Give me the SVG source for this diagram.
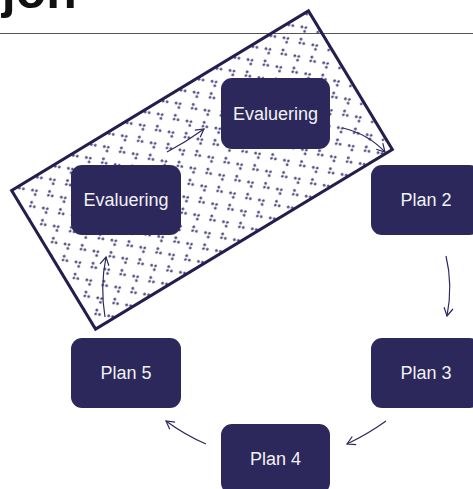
<svg xmlns="http://www.w3.org/2000/svg" width="473" height="489" viewBox="0 0 473 489">
  <style>
    .node rect { fill: #2c285b; }
    .node text { fill: #f2f2f4; font-family: "Liberation Sans", Arial, sans-serif; font-size: 18px; text-anchor: middle; }
    .link { fill: none; stroke: #2c285b; stroke-width: 1.2; marker-end: url(#arrow); }
    .title { font-family: "Liberation Sans", Arial, sans-serif; font-weight: bold; font-size: 50px; fill: #111; }
  </style>
  <defs>
    <marker id="arrow" markerUnits="userSpaceOnUse" markerWidth="14" markerHeight="14" viewBox="-10 -7 14 14" refX="0" refY="0" orient="auto">
      <path d="M-8,-4.5 L0,0 L-8,4.5" fill="none" stroke="#2c285b" stroke-width="1.2"/>
    </marker>
    <!-- dotted chevron fill -->
    <pattern id="chevrons" patternUnits="userSpaceOnUse" width="21" height="21">
      <g fill="#45427a">
        <circle cx="12.6" cy="13.4" r="1.35"/>
        <circle cx="15.6" cy="16" r="1.35"/>
        <circle cx="12.6" cy="18.6" r="1.35"/>
        <circle cx="5.5" cy="2.4" r="1.35"/>
        <circle cx="2.5" cy="5" r="1.35"/>
        <circle cx="5.5" cy="7.6" r="1.35"/>
      </g>
    </pattern>
  </defs>

  <rect width="473" height="489" fill="#ffffff"/>

  <!-- heading -->
  <text class="title" x="-26" y="7.5">sjon</text>
  <line x1="0" y1="33.5" x2="473" y2="33.5" stroke="#555" stroke-width="1.2"/>

  <!-- tilted hatched panel -->
  <g id="panel">
    <rect x="-173.5" y="-81" width="347" height="162" transform="translate(202,170) rotate(-31.2)" fill="url(#chevrons)" stroke="#231e4d" stroke-width="3"/>
  </g>

  <g id="connectors">
    <path class="link" d="M167,152 Q186,142 204,129"/>
    <path class="link" d="M343,128 Q368,134 385,152"/>
    <path class="link" d="M446,256 Q453,285 447,316"/>
    <path class="link" d="M386,421 Q368,434 347,444"/>
    <path class="link" d="M206,444 Q185,435 166,421"/>
    <path class="link" d="M105,317 Q100,287 106,257"/>
  </g>

  <g id="eval-top" class="node">
    <rect x="221" y="78" width="109" height="71" rx="11"/>
    <text x="275.5" y="119.5">Evaluering</text>
  </g>
  <g id="eval-left" class="node">
    <rect x="71" y="165" width="110" height="70" rx="11"/>
    <text x="126" y="206">Evaluering</text>
  </g>
  <g id="plan2" class="node">
    <rect x="371" y="165" width="110" height="70" rx="11"/>
    <text x="426" y="206">Plan 2</text>
  </g>
  <g id="plan3" class="node">
    <rect x="371" y="338" width="110" height="70" rx="11"/>
    <text x="426" y="379">Plan 3</text>
  </g>
  <g id="plan4" class="node">
    <rect x="221" y="424" width="109" height="70" rx="11"/>
    <text x="275.5" y="465">Plan 4</text>
  </g>
  <g id="plan5" class="node">
    <rect x="71" y="338" width="110" height="70" rx="11"/>
    <text x="126" y="379">Plan 5</text>
  </g>
</svg>
